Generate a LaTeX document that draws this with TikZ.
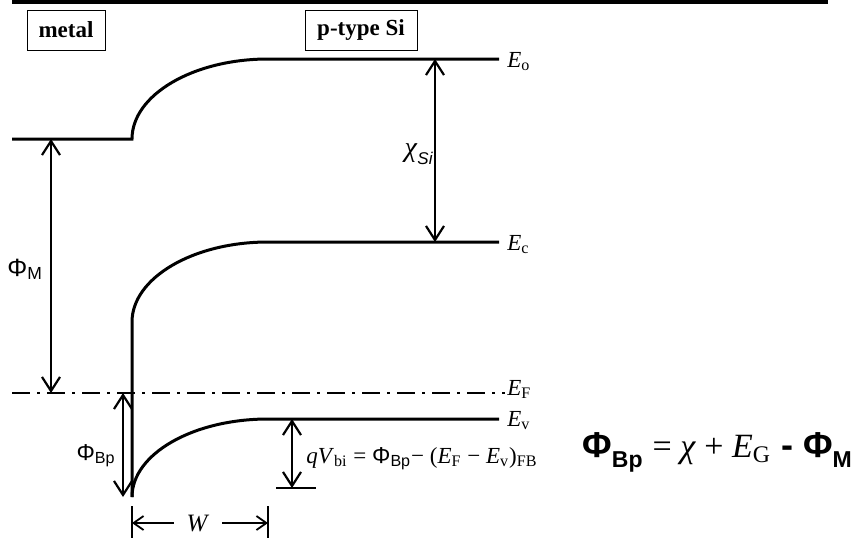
\documentclass[tikz,border=0pt]{standalone}
\usepackage{fontspec}
\setmainfont{Liberation Serif}
\setsansfont{Liberation Sans}
\usetikzlibrary{arrows.meta}

\newcommand{\bigsub}[2]{\raisebox{-0.3em}{\fontsize{#1}{#1}\selectfont #2}}

\begin{document}
\begin{tikzpicture}[x=0.5pt,y=-0.5pt,
  band/.style={line width=1.5pt},
  gap/.style={line width=1.1pt, {Straight Barb[length=7pt,width=9pt]}-{Straight Barb[length=7pt,width=9pt]}},
  dimarrow/.style={line width=0.9pt, -{Straight Barb[length=5pt,width=7pt]}},
  tick/.style={line width=0.8pt},
  fermi/.style={line width=0.8pt, dash pattern=on 9pt off 3.5pt on 1.5pt off 3.5pt},
  txt/.style={font=\fontsize{11.5}{13}\selectfont, inner sep=0pt},
  eband/.style={font=\fontsize{11.5}{13}\selectfont, anchor=base west, inner sep=0pt},
  region/.style={draw, line width=0.5pt, minimum width=39pt, minimum height=20pt, inner sep=0pt, font=\fontsize{11.5}{13}\selectfont\bfseries}
]
\useasboundingbox (0,0) rectangle (853,538);

\coordinate (ruleL) at (12,2);
\coordinate (ruleR) at (828,2);
\coordinate (mL) at (12,139);
\coordinate (mR) at (132,139);
\coordinate (oL) at (268,59);
\coordinate (oR) at (499,59);
\coordinate (cB) at (132,322);
\coordinate (cL) at (268,242);
\coordinate (cR) at (499,242);
\coordinate (vB) at (132,497);
\coordinate (vL) at (268,419);
\coordinate (vR) at (499,419);
\coordinate (fL) at (12,393);
\coordinate (fR) at (505,393);

\draw[line width=2pt] (ruleL) -- (ruleR);

\node[region] (lblMetal) at (66,30) {metal};
\node[region, minimum width=56pt] (lblSi) at (361,30) {p-type Si};

% band edges
\draw[band] (mL) -- (mR) .. controls (132,95) and (193,59) .. (oL) -- (oR);
\draw[band] (cR) -- (cL) .. controls (193,242) and (132,278) .. (cB) -- (vB);
\draw[band] (vB) .. controls (132,454) and (193,419) .. (vL) -- (vR);
\draw[fermi] (fL) -- (fR);

\node[eband] (lblEo) at (507,67) {\textit{E}\textsubscript{o}};
\node[eband] (lblEc) at (507,250) {\textit{E}\textsubscript{c}};
\node[eband] (lblEF) at (507,395) {\textit{E}\textsubscript{F}};
\node[eband] (lblEv) at (507,426) {\textit{E}\textsubscript{v}};

% energy differences
\coordinate (phiMt) at (51,139);
\coordinate (phiMb) at (51,393);
\coordinate (chiT) at (435,59);
\coordinate (chiB) at (435,242);
\coordinate (phiBt) at (123,393);
\coordinate (phiBb) at (123,497);
\coordinate (qVt) at (292,419);
\coordinate (qVb) at (292,488);
\coordinate (qVl) at (276,488);
\coordinate (qVr) at (316,488);
\draw[gap] (phiMt) -- (phiMb);
\draw[gap] (chiT) -- (chiB);
\draw[gap] (phiBt) -- (phiBb);
\draw[gap] (qVt) -- (qVb);
\draw[tick] (qVl) -- (qVr);

\node[txt, anchor=base west] (lblPhiM) at (7,276) {\sffamily\fontsize{12.5}{14}\selectfont Φ\textsubscript{M}};
\node[txt, anchor=base east] (lblChi) at (433,156) {\fontsize{14}{16}\selectfont\textit{χ}\bigsub{8.5}{\sffamily\itshape Si}};
\node[txt, anchor=base east] (lblPhiB) at (116,460) {\sffamily Φ\textsubscript{Bp}};
\node[txt, anchor=base west] (lblqV) at (306,463) {\textit{qV}\textsubscript{bi} = {\sffamily Φ\textsubscript{Bp}}− (\textit{E}\textsubscript{F} − \textit{E}\textsubscript{v})\textsubscript{FB}};

% depletion width
\coordinate (wLt) at (132,506);
\coordinate (wLb) at (132,538);
\coordinate (wRt) at (268,506);
\coordinate (wRb) at (268,538);
\coordinate (wL) at (132,523);
\coordinate (wR) at (268,523);
\draw[tick] (wLt) -- (wLb);
\draw[tick] (wRt) -- (wRb);
\node[txt, minimum width=24pt, font=\fontsize{12.5}{14}\selectfont] (lblW) at (198,523) {\textit{W}};
\draw[dimarrow] (lblW) -- (wL);
\draw[dimarrow] (lblW) -- (wR);

\node[inner sep=0pt, anchor=base west] (formula) at (582,457) {{\fontsize{18}{20}\sffamily\bfseries Φ\bigsub{11.5}{Bp}}\enspace{\fontsize{17}{20}\selectfont = \textit{χ} + \textit{E}\textsubscript{G}}\enspace{\fontsize{18}{20}\sffamily\bfseries - Φ\bigsub{11.5}{M}}};
\end{tikzpicture}
\end{document}
